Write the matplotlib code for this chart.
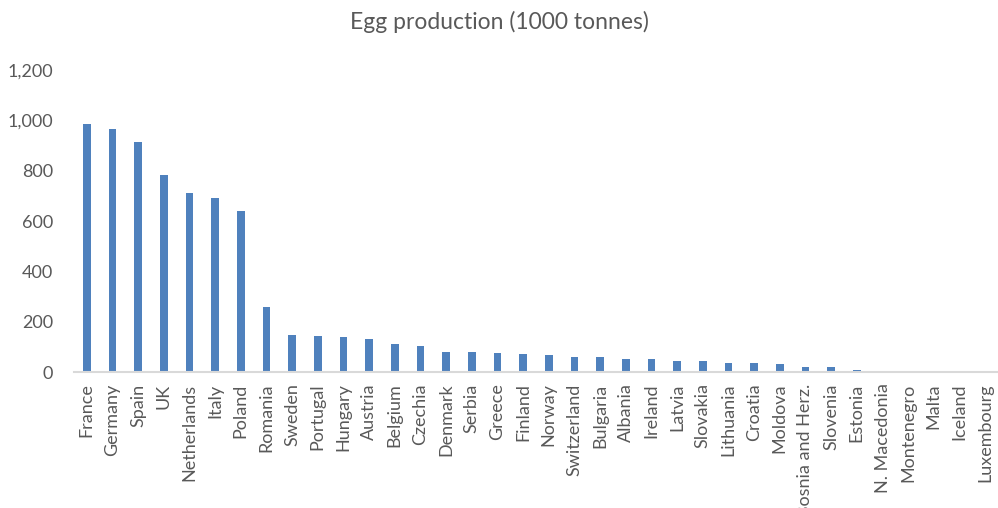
import matplotlib
matplotlib.use('Agg')
import matplotlib.pyplot as plt

# Egg production by country, 1000 tonnes
countries = ['France', 'Germany', 'Spain', 'UK', 'Netherlands', 'Italy', 'Poland',
             'Romania', 'Sweden', 'Portugal', 'Hungary', 'Austria', 'Belgium',
             'Czechia', 'Denmark', 'Serbia', 'Greece', 'Finland', 'Norway',
             'Switzerland', 'Bulgaria', 'Albania', 'Ireland', 'Latvia', 'Slovakia',
             'Lithuania', 'Croatia', 'Moldova', 'Bosnia and Herz.', 'Slovenia',
             'Estonia', 'N. Macedonia', 'Montenegro', 'Malta', 'Iceland', 'Luxembourg']
production = [985, 966, 913, 785, 711, 692, 641,
              260, 149, 145, 140, 132, 112,
              104, 82, 81, 78, 73, 70,
              62, 61, 51, 51, 44, 44,
              38, 36, 33, 22, 21,
              8, 5, 3, 1.5, 1.5, 1]
y_ticks = [0, 200, 400, 600, 800, 1000, 1200]

plt.rcParams['font.family'] = ['Lato', 'DejaVu Sans']
grey = '#595959'

fig = plt.figure(figsize=(9.98, 5.08), dpi=100)
ax = fig.add_axes([74 / 998, (508 - 372.3) / 508, 924 / 998, 302.3 / 508])

x = range(len(countries))
ax.bar(x, production, width=0.31, color='#4f81bd')

ax.set_xlim(-0.5, len(countries) - 0.5)
ax.set_ylim(0, 1200)
ax.set_yticks(y_ticks)
ax.set_yticklabels([f'{v:,}' for v in y_ticks])
ax.set_xticks(list(x))
ax.set_xticklabels(countries, rotation=90)
ax.tick_params(axis='both', length=0, colors=grey)
ax.tick_params(axis='x', pad=8, labelsize=13)
ax.tick_params(axis='y', pad=15, labelsize=13)

for side in ['top', 'right', 'left']:
    ax.spines[side].set_visible(False)
ax.spines['bottom'].set_color('#d9d9d9')
ax.spines['bottom'].set_linewidth(1.5)

fig.text(0.5, 1 - 22 / 508, 'Egg production (1000 tonnes)', ha='center', va='center',
         fontsize=16.5, color=grey)

fig.savefig('out.png', dpi=100)
